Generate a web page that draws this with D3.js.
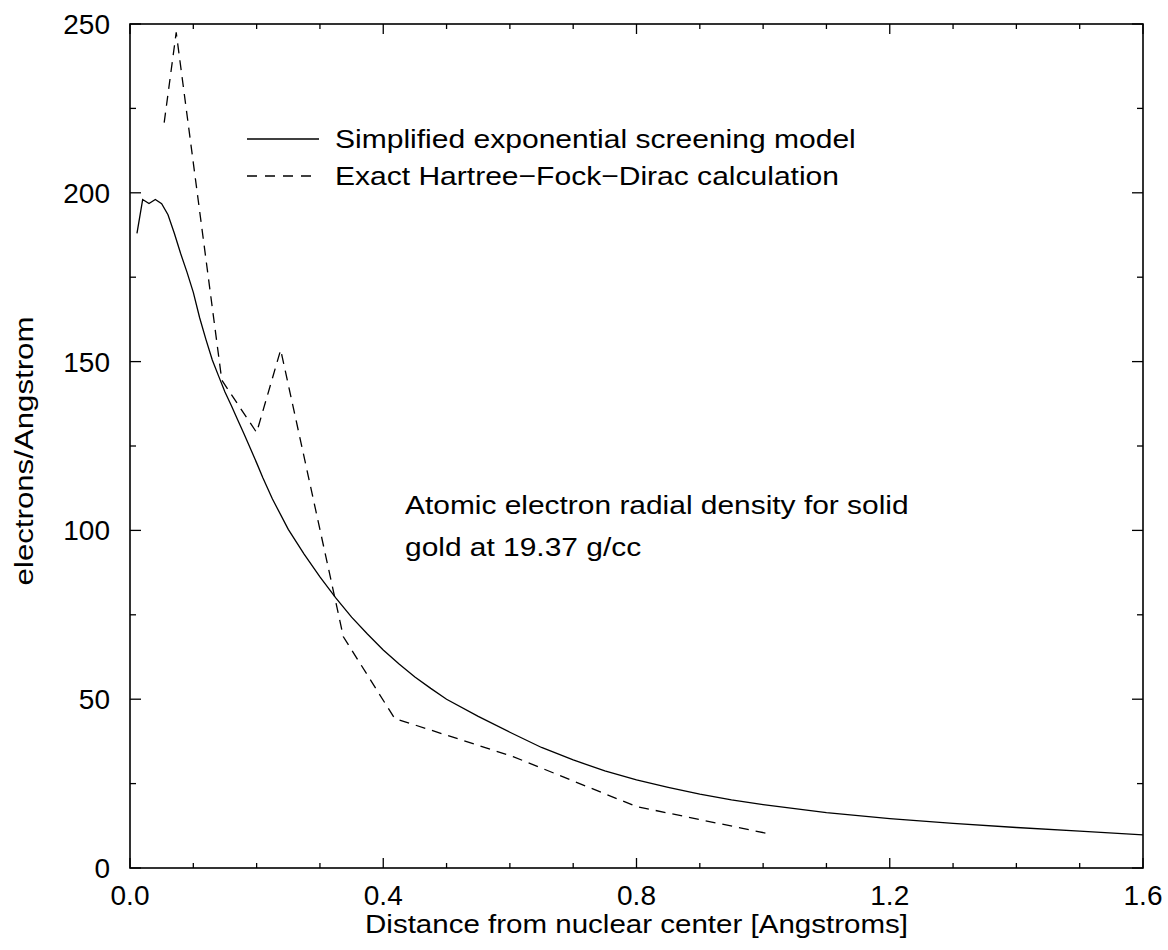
<!DOCTYPE html>
<html>
<head>
<meta charset="utf-8">
<script src="https://cdn.jsdelivr.net/npm/d3@7"></script>
<style>
  body { margin: 0; background: #fff; }
  svg { display: block; font-family: "Liberation Sans", Arial, sans-serif; }
</style>
</head>
<body>
<svg id="chart" width="1168" height="950"></svg>
<script>
// screening model curve (distance in Angstrom, electrons/Angstrom)
const modelX = [0.011,0.020,0.030,0.040,0.050,0.060,0.070,0.080,0.090,0.100,0.110,0.120,0.130,0.140,0.150,0.160,0.170,0.180,0.190,0.200,0.210,0.225,0.250,0.275,0.300,0.325,0.350,0.375,0.400,0.425,0.450,0.475,0.500,0.550,0.600,0.650,0.700,0.750,0.800,0.850,0.900,0.950,1.000,1.100,1.200,1.300,1.400,1.500,1.600];
const modelY = [188,198,196.8,198,196.8,193.5,188,182,176.5,170.5,163,156.5,150.5,145.7,141,137,132.8,128.6,124.3,120,115.5,109.3,100.3,93,86.2,80,74.3,69.3,64.6,60.4,56.6,53.2,50,44.9,40.2,35.7,32,28.8,26.1,23.9,21.9,20.2,18.8,16.4,14.6,13.2,12,10.9,9.8];

// Hartree-Fock-Dirac calculation
const hfdX = [0.054,0.073,0.145,0.200,0.238,0.337,0.418,0.605,0.800,1.005];
const hfdY = [220.8,247.5,144.5,129,153.5,68.5,44.3,33,18.2,10.3];

const xTicks = [0.0,0.4,0.8,1.2,1.6];
const xTickLabels = ["0.0","0.4","0.8","1.2","1.6"];
const yTicks = [0,50,100,150,200,250];
const legendLabels = ["Simplified exponential screening model","Exact Hartree\u2212Fock\u2212Dirac calculation"];
const noteLines = ["Atomic electron radial density for solid","gold at 19.37 g/cc"];

const svg = d3.select('#chart');
const plotL = 130, plotR = 1143, plotT = 24, plotB = 868;

const x = d3.scaleLinear().domain([0,1.6]).range([plotL,plotR]);
const y = d3.scaleLinear().domain([0,250]).range([plotB,plotT]);

const g = svg.append('g');

// the original lettering is a bit wider than Liberation Sans
function widen(k){
  return function(){
    const w = this.getComputedTextLength();
    this.setAttribute('textLength', (w*k).toFixed(1));
    this.setAttribute('lengthAdjust','spacingAndGlyphs');
  };
}

// minor + major ticks, drawn inward on all four sides
const xMinor = d3.range(0,17).map(i=>i/10);
const yMinor = d3.range(0,11).map(i=>i*25);

function isMajorX(v){ return Math.abs(v/0.4 - Math.round(v/0.4)) < 1e-6; }
function isMajorY(v){ return v % 50 === 0; }

g.selectAll('line.xb').data(xMinor).enter().append('line')
  .attr('x1',d=>x(d)).attr('x2',d=>x(d))
  .attr('y1',plotB).attr('y2',d=>plotB-(isMajorX(d)?10:5))
  .attr('stroke','#000').attr('stroke-width',1.3);
g.selectAll('line.xt').data(xMinor).enter().append('line')
  .attr('x1',d=>x(d)).attr('x2',d=>x(d))
  .attr('y1',plotT).attr('y2',d=>plotT+(isMajorX(d)?10:5))
  .attr('stroke','#000').attr('stroke-width',1.3);
g.selectAll('line.yl').data(yMinor).enter().append('line')
  .attr('y1',d=>y(d)).attr('y2',d=>y(d))
  .attr('x1',plotL).attr('x2',d=>plotL+(isMajorY(d)?11:6))
  .attr('stroke','#000').attr('stroke-width',1.3);
g.selectAll('line.yr').data(yMinor).enter().append('line')
  .attr('y1',d=>y(d)).attr('y2',d=>y(d))
  .attr('x1',plotR).attr('x2',d=>plotR-(isMajorY(d)?11:6))
  .attr('stroke','#000').attr('stroke-width',1.3);

// frame
g.append('rect').attr('x',plotL).attr('y',plotT)
  .attr('width',plotR-plotL).attr('height',plotB-plotT)
  .attr('fill','none').attr('stroke','#000').attr('stroke-width',1.6);

// tick labels
g.selectAll('text.xl').data(xTicks).enter().append('text')
  .attr('x',d=>x(d)).attr('y',905)
  .attr('text-anchor','middle').attr('font-size',28)
  .text((d,i)=>xTickLabels[i]);
g.selectAll('text.yl').data(yTicks).enter().append('text')
  .attr('x',110).attr('y',d=>y(d)+10)
  .attr('text-anchor','end').attr('font-size',28)
  .text(d=>d);

// axis titles
g.append('text').attr('x',(plotL+plotR)/2).attr('y',933)
  .attr('text-anchor','middle').attr('font-size',26)
  .text('Distance from nuclear center [Angstroms]')
  .each(widen(1.135));
g.append('text').attr('transform',`translate(33,451) rotate(-90)`)
  .attr('text-anchor','middle').attr('font-size',26)
  .text('electrons/Angstrom')
  .each(widen(1.2));

// curves
const line = d3.line().x(d=>x(d[0])).y(d=>y(d[1]));
const model = modelX.map((v,i)=>[v,modelY[i]]);
const hfd = hfdX.map((v,i)=>[v,hfdY[i]]);

g.append('path').datum(model).attr('d',line)
  .attr('fill','none').attr('stroke','#000').attr('stroke-width',1.3);
g.append('path').datum(hfd).attr('d',line)
  .attr('fill','none').attr('stroke','#000').attr('stroke-width',1.3)
  .attr('stroke-dasharray','10,7');

// legend
const legendY = [139,176];
const leg = g.selectAll('g.leg').data(legendLabels).enter().append('g')
  .attr('transform',(d,i)=>`translate(247,${legendY[i]})`);
leg.append('line').attr('x1',0).attr('x2',72).attr('y1',0).attr('y2',0)
  .attr('stroke','#000').attr('stroke-width',1.3)
  .attr('stroke-dasharray',(d,i)=>i===1?'10,8':null);
leg.append('text').attr('x',88).attr('y',9).attr('font-size',26).text(d=>d)
  .each(widen(1.155));

// annotation
g.selectAll('text.note').data(noteLines).enter().append('text')
  .attr('x',405).attr('y',(d,i)=>514+i*42)
  .attr('font-size',26).text(d=>d)
  .each(widen(1.15));
</script>
</body>
</html>
